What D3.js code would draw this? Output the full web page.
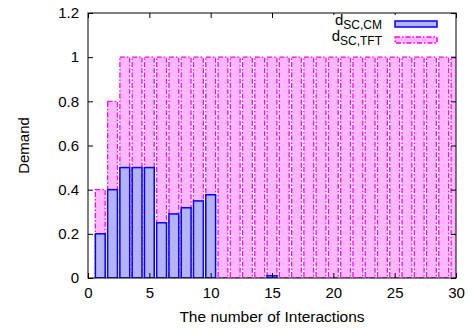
<!DOCTYPE html>
<html>
<head>
<meta charset="utf-8">
<script src="https://cdn.jsdelivr.net/npm/d3@7"></script>
<style>
  body { margin: 0; background: #fff; }
  text { font-family: "Liberation Sans", Arial, sans-serif; fill: #000; }
</style>
</head>
<body>
<script>
// interactions 0..30
const interactions = d3.range(0, 31);
// d_SC,TFT demand per interaction
const tftValues = [0, 0.4, 0.8, 1, 1, 1, 1, 1, 1, 1, 1, 1, 1, 1, 1, 1, 1, 1, 1, 1, 1, 1, 1, 1, 1, 1, 1, 1, 1, 1, 1];
// d_SC,CM demand per interaction
const cmValues = [0, 0.2, 0.4, 0.5, 0.5, 0.5, 0.25, 0.29, 0.318, 0.349, 0.377, 0, 0, 0, 0, 0.01, 0, 0, 0, 0, 0, 0, 0, 0, 0, 0, 0, 0, 0, 0, 0];
const xTicks = [0, 5, 10, 15, 20, 25, 30];
const yTicks = [0, 0.2, 0.4, 0.6, 0.8, 1, 1.2];

const w = 472, h = 329;
const margin = {left: 88, right: 16, top: 13, bottom: 51};
const fs = 15;
const tftDash = "5,2,1.5,2";

const svg = d3.select("body").append("svg")
  .attr("width", w)
  .attr("height", h);

const x = d3.scaleLinear().domain([0, 30]).range([margin.left, w - margin.right]);
const y = d3.scaleLinear().domain([0, 1.2]).range([h - margin.bottom, margin.top]);
const barW = x(0.8) - x(0);

svg.append("clipPath").attr("id", "plotclip")
  .append("rect")
  .attr("x", x(0)).attr("y", y(1.2))
  .attr("width", x(30) - x(0)).attr("height", y(0) - y(1.2));

const plot = svg.append("g").attr("clip-path", "url(#plotclip)");

// TFT bars (behind)
plot.selectAll(".tft").data(interactions).join("rect")
  .attr("class", "tft")
  .attr("x", d => x(d) - barW / 2)
  .attr("y", d => y(tftValues[d]))
  .attr("width", barW)
  .attr("height", d => y(0) - y(tftValues[d]))
  .attr("fill", "#ffb8ff")
  .attr("stroke", "#ff00ff")
  .attr("stroke-width", 1.3)
  .attr("stroke-dasharray", tftDash);

// CM bars (front)
plot.selectAll(".cm").data(interactions).join("rect")
  .attr("class", "cm")
  .attr("x", d => x(d) - barW / 2)
  .attr("y", d => y(cmValues[d]))
  .attr("width", barW)
  .attr("height", d => y(0) - y(cmValues[d]))
  .attr("fill", "#b4b4f5")
  .attr("stroke", "#0000ff")
  .attr("stroke-width", 1.5);

// axes with inward ticks + mirrors
const xAxis = d3.axisBottom(x).tickValues(xTicks).tickSize(-5).tickPadding(9).tickFormat(d3.format("d"));
const yAxis = d3.axisLeft(y).tickValues(yTicks).tickSize(-5).tickPadding(9).tickFormat(d => d === 0 || d === 1 ? d : d3.format(".1f")(d));

const gx = svg.append("g").attr("transform", `translate(0,${y(0)})`).call(xAxis);
const gy = svg.append("g").attr("transform", `translate(${x(0)},0)`).call(yAxis);
svg.append("g").attr("transform", `translate(0,${y(1.2)})`)
  .call(d3.axisTop(x).tickValues(xTicks).tickSize(-5).tickFormat(""));
svg.append("g").attr("transform", `translate(${x(30)},0)`)
  .call(d3.axisRight(y).tickValues(yTicks).tickSize(-5).tickFormat(""));

svg.selectAll(".domain").remove();
svg.selectAll(".tick line").attr("stroke", "#000");
svg.selectAll(".tick text").attr("font-size", fs).attr("font-family", "Liberation Sans, Arial, sans-serif");

// legend
const lg = svg.append("g");
lg.append("rect").attr("x", 300).attr("y", 15).attr("width", 150).attr("height", 32).attr("fill", "#fff");
const legendItems = [
  {sub: "SC,CM", fill: "#b4b4f5", stroke: "#0000ff", dash: null, yy: 24},
  {sub: "SC,TFT", fill: "#ffb8ff", stroke: "#ff00ff", dash: tftDash, yy: 40}
];
legendItems.forEach(it => {
  const t = lg.append("text").attr("x", 382).attr("y", it.yy + 1)
    .attr("text-anchor", "end").attr("font-size", fs);
  t.append("tspan").text("d");
  t.append("tspan").attr("dy", 4).attr("font-size", 12).text(it.sub);
  lg.append("rect").attr("x", 395).attr("y", it.yy - 3).attr("width", 42).attr("height", 6)
    .attr("fill", it.fill).attr("stroke", it.stroke).attr("stroke-width", 1.5)
    .attr("stroke-dasharray", it.dash);
});

// frame
svg.append("rect")
  .attr("x", x(0)).attr("y", y(1.2))
  .attr("width", x(30) - x(0)).attr("height", y(0) - y(1.2))
  .attr("fill", "none").attr("stroke", "#000").attr("stroke-width", 1);

// axis titles
svg.append("text").attr("x", (x(0) + x(30)) / 2).attr("y", 322)
  .attr("text-anchor", "middle").attr("font-size", 15.5).text("The number of Interactions");
svg.append("text").attr("transform", `translate(29,${(y(0) + y(1.2)) / 2}) rotate(-90)`)
  .attr("text-anchor", "middle").attr("font-size", 15).text("Demand");
</script>
</body>
</html>
